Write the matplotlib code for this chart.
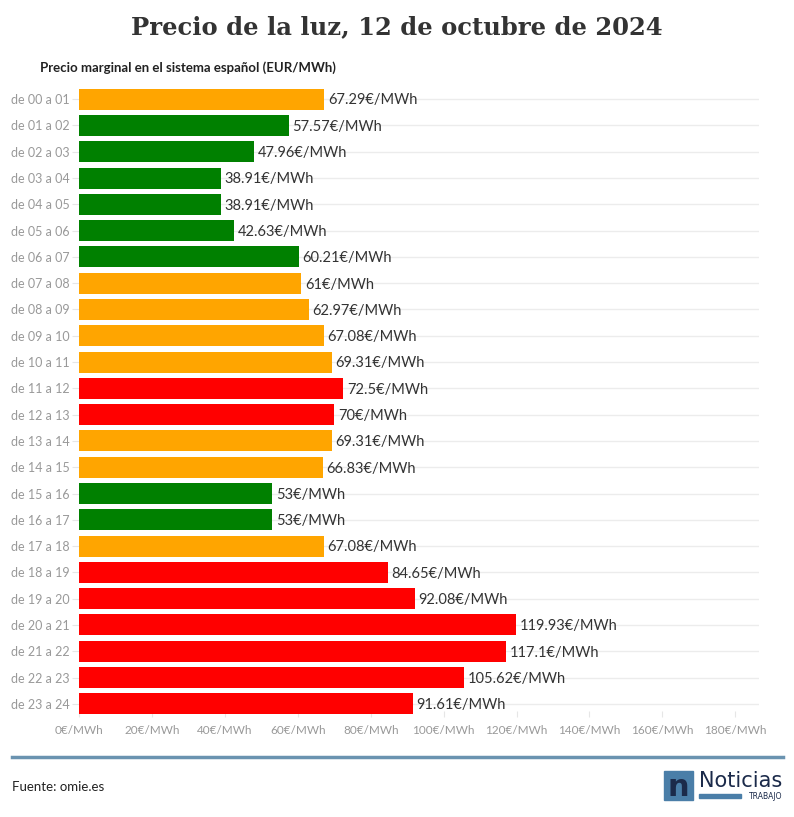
import matplotlib.pyplot as plt
from matplotlib.patches import Rectangle

horas = ["de %02d a %02d" % (h, h + 1) for h in range(24)]
precios = [67.29, 57.57, 47.96, 38.91, 38.91, 42.63, 60.21, 61, 62.97, 67.08,
           69.31, 72.5, 70, 69.31, 66.83, 53, 53, 67.08, 84.65, 92.08,
           119.93, 117.1, 105.62, 91.61]
etiquetas = ["67.29", "57.57", "47.96", "38.91", "38.91", "42.63", "60.21", "61",
             "62.97", "67.08", "69.31", "72.5", "70", "69.31", "66.83", "53", "53",
             "67.08", "84.65", "92.08", "119.93", "117.1", "105.62", "91.61"]
colores = ["orange", "green", "green", "green", "green", "green", "green", "orange",
           "orange", "orange", "orange", "red", "red", "orange", "orange", "green",
           "green", "orange", "red", "red", "red", "red", "red", "red"]
ticks_x = [0, 20, 40, 60, 80, 100, 120, 140, 160, 180]

plt.rcParams['font.family'] = ['Lato', 'DejaVu Sans']

W, H = 794, 817
fig = plt.figure(figsize=(W / 100, H / 100), dpi=100)
ax = fig.add_axes([79 / W, 1 - 717 / H, (759 - 79) / W, (717 - 86) / H])

ypos = list(range(len(horas)))
ax.barh(ypos, precios, height=0.8, color=colores, zorder=3)
for y, v, t in zip(ypos, precios, etiquetas):
    ax.text(v + 1, y + 0.05, t + "€/MWh", va="center", ha="left", fontsize=10.5,
            color="#333333", zorder=4)

ax.set_ylim(len(horas) - 0.5, -0.5)
ax.set_xlim(0, 186.5)
ax.set_yticks(ypos)
ax.set_yticklabels(horas, fontsize=9, color="#999999")
ax.set_xticks(ticks_x)
ax.set_xticklabels([str(t) + "€/MWh" for t in ticks_x], fontsize=8.5, color="#999999")
ax.tick_params(axis="y", length=5, color="#e6e6e6", pad=2)
ax.tick_params(axis="x", length=4, color="#e6e6e6", direction="in", pad=6)
ax.xaxis.set_ticks_position("bottom")
ax.grid(axis="y", color="#ececec", lw=1, zorder=0)
for s in ax.spines.values():
    s.set_visible(False)

fig.text(0.5, 1 - 27 / H, "Precio de la luz, 12 de octubre de 2024", ha="center",
         va="center", fontsize=17.5, fontweight="bold", family="DejaVu Serif",
         color="#333333")
fig.text(40 / W, 1 - 68 / H, "Precio marginal en el sistema español (EUR/MWh)",
         ha="left", va="center", fontsize=9.5, fontweight="bold", color="#222222")

fig.add_artist(plt.Line2D([12 / W, 783 / W], [1 - 757 / H] * 2, color="#6a93b0",
                          lw=2.5, transform=fig.transFigure))
fig.text(12 / W, 1 - 787 / H, "Fuente: omie.es", ha="left", va="center",
         fontsize=9.5, color="#222222")

# logo
fig.add_artist(Rectangle((664 / W, 1 - 800 / H), 29 / W, 29 / H, color="#4a7ea8",
                         transform=fig.transFigure))
fig.text(678.5 / W, 1 - 787 / H, "n", ha="center", va="center", fontsize=22,
         fontweight="bold", color="#1b2a4a", family="DejaVu Sans")
fig.text(699 / W, 1 - 781 / H, "Noticias", ha="left", va="center", fontsize=15,
         color="#1b2a4a", family="DejaVu Sans")
fig.add_artist(Rectangle((699 / W, 1 - 798 / H), 42 / W, 4 / H, color="#4a7ea8",
                         transform=fig.transFigure))
fig.text(782 / W, 1 - 796.5 / H, "TRABAJO", ha="right", va="center", fontsize=5.5,
         color="#1b2a4a", family="DejaVu Sans")

fig.savefig("out.png", dpi=100, facecolor="white")
